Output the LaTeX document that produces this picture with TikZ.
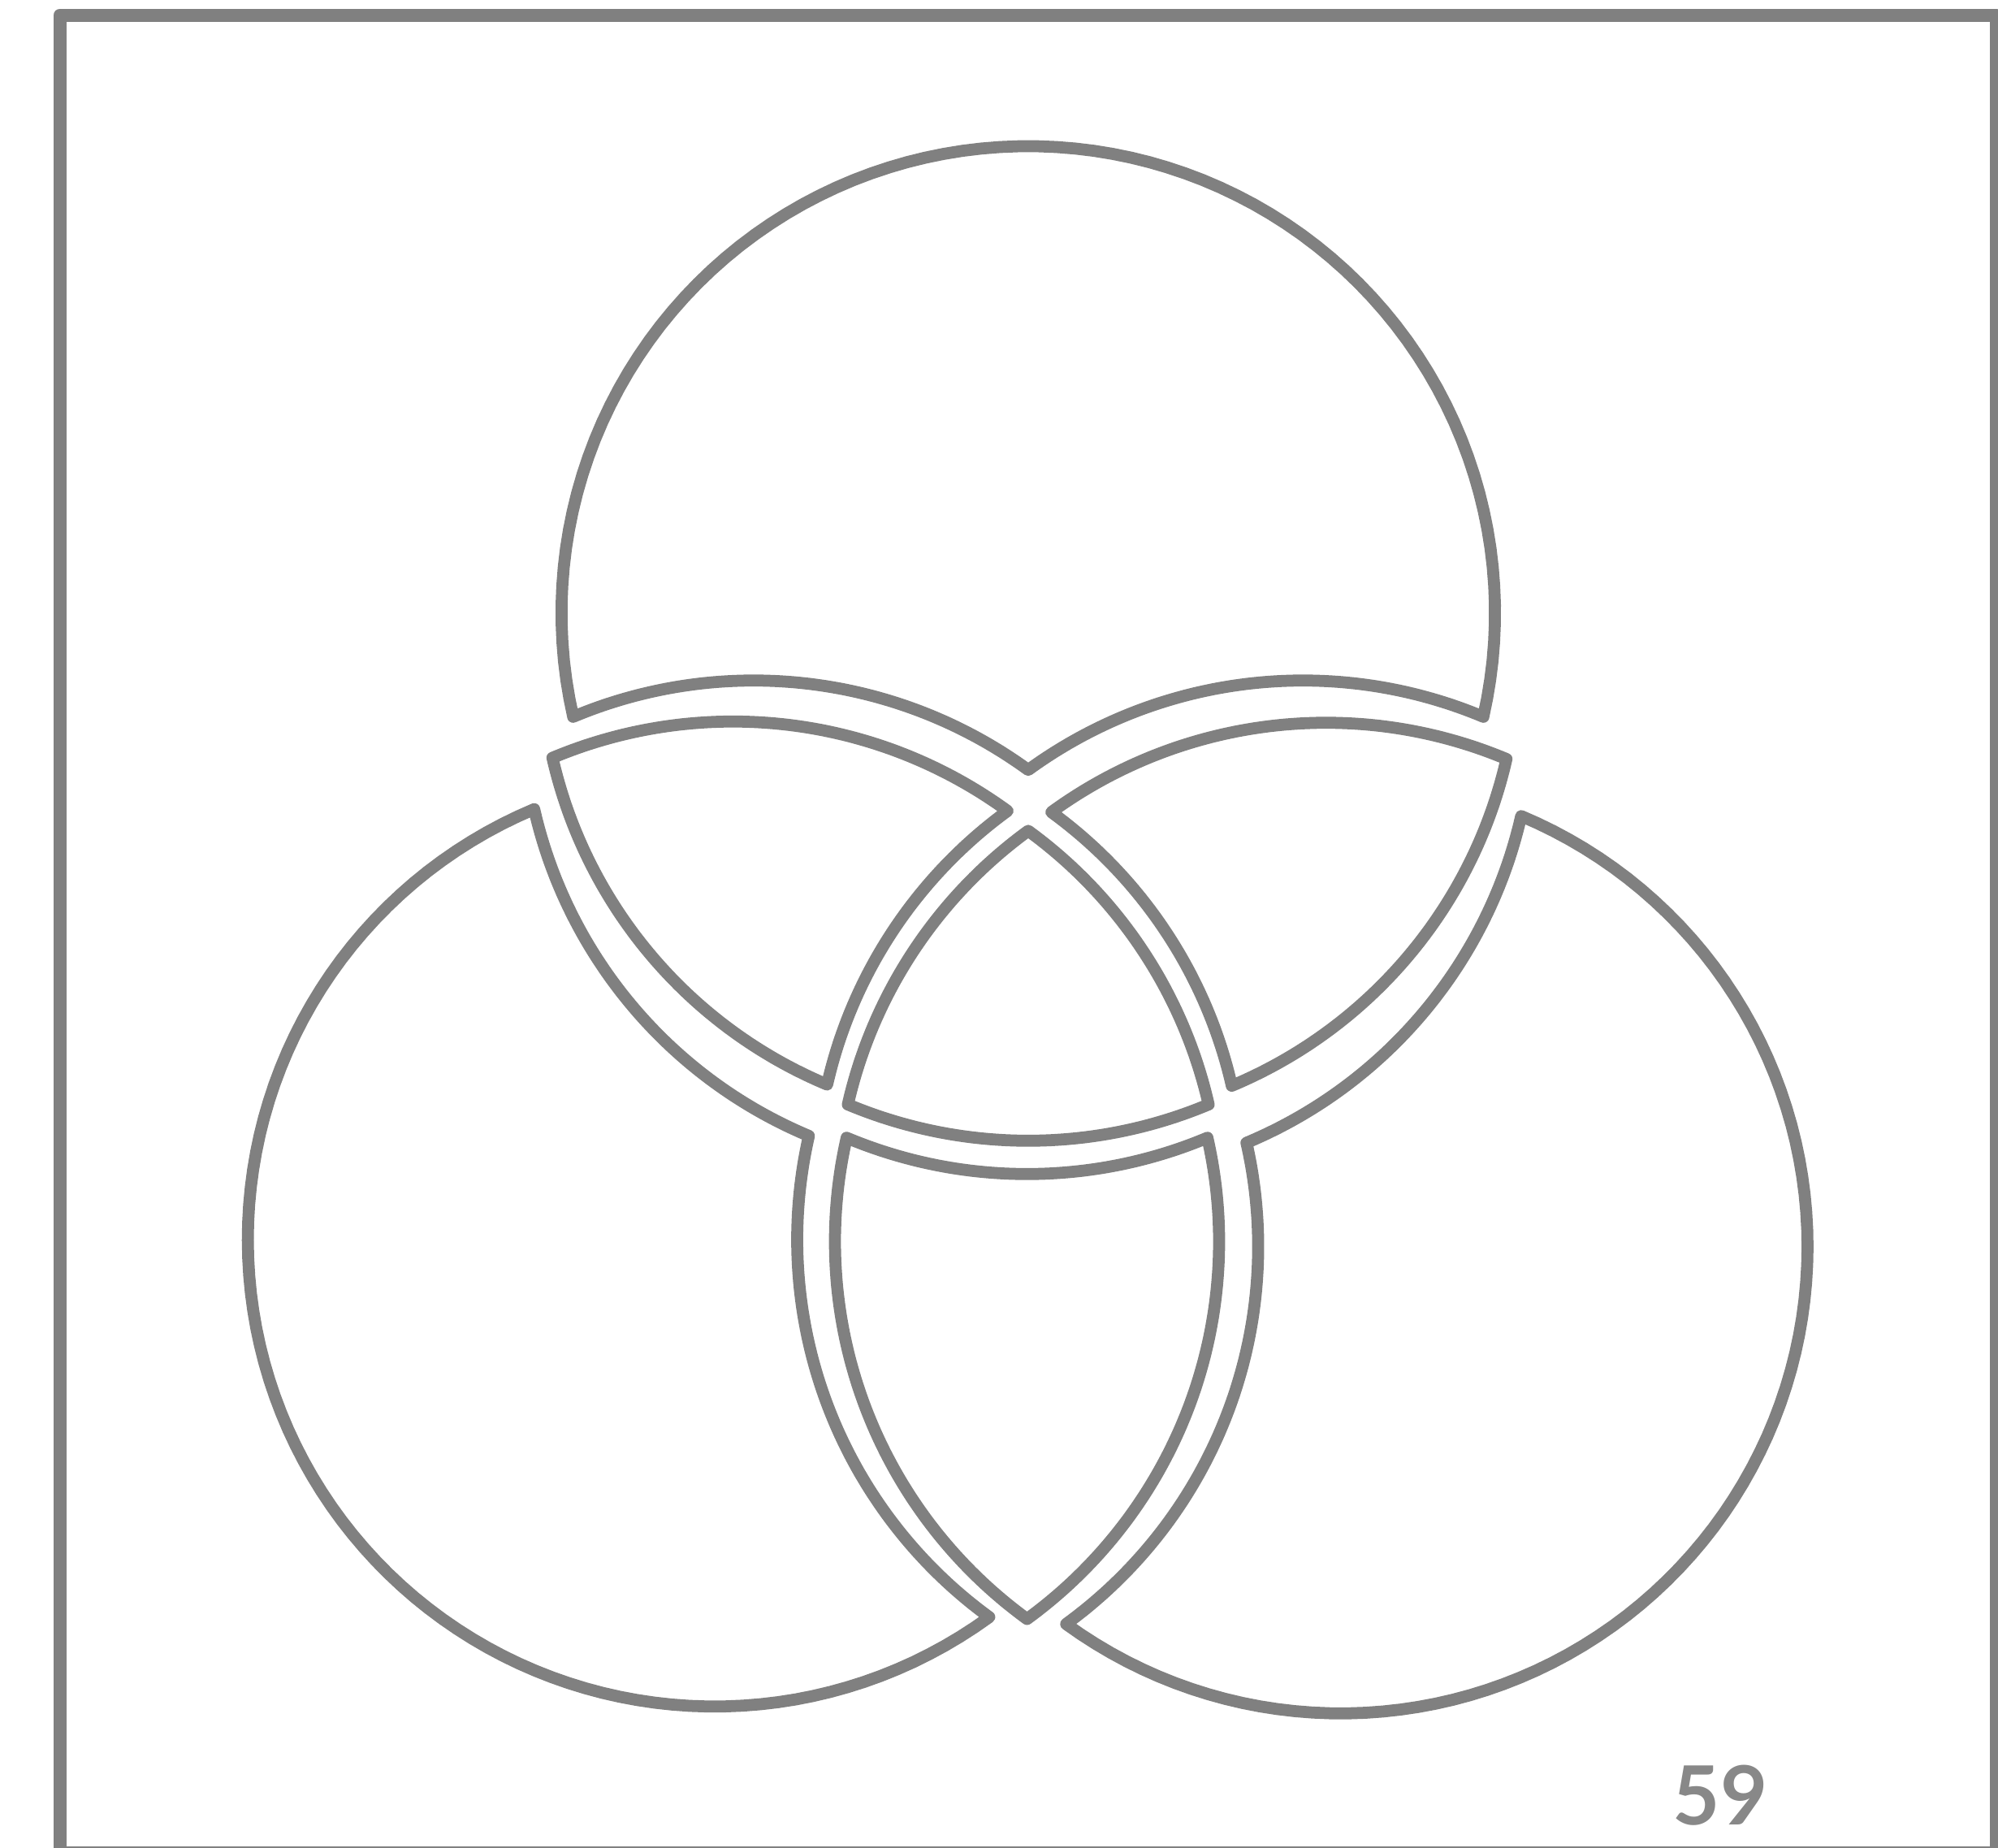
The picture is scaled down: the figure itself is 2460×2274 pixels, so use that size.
\documentclass[tikz,border=0pt]{standalone}
\usepackage{fontspec}
\newfontfamily\latobold{Lato Bold}
\definecolor{linegray}{RGB}{128,128,128}
\definecolor{numgray}{RGB}{136,136,136}
\begin{document}
\begin{tikzpicture}[x=0.1mm,y=-0.1mm,
  piece/.style={draw=linegray,line width=4.2pt,line join=round},
  framestyle/.style={draw=linegray,line width=4.55pt,line join=round},
  arcs/.style={samples=90}]
\useasboundingbox (0,0) rectangle (2460,2274);
\clip (0,0) rectangle (2460,2274);
\def\R{574.7}
% frame
\draw[framestyle] (73.7,18.5) rectangle (2458,2281);
% top piece (A only)
\draw[piece,shift={(0,-75)}]
  plot[arcs,domain=167.15:372.85] ({1266+\R*cos(\x)},{829.6+\R*sin(\x)})
  -- plot[arcs,domain=-67.26:-126.05] ({1604.2+\R*cos(\x)},{1487.4+\R*sin(\x)})
  -- plot[arcs,domain=-53.95:-112.74] ({927.8+\R*cos(\x)},{1487.4+\R*sin(\x)})
  -- cycle;
% A and B only
\draw[piece,shift={(-25.5,-24.5)}]
  plot[arcs,domain=-112.74:-53.95] ({927.8+\R*cos(\x)},{1487.4+\R*sin(\x)})
  -- plot[arcs,domain=233.95:192.85] ({1604.2+\R*cos(\x)},{1487.4+\R*sin(\x)})
  -- plot[arcs,domain=112.74:167.15] ({1266+\R*cos(\x)},{829.6+\R*sin(\x)})
  -- cycle;
% A and C only
\draw[piece,shift={(28.5,-23)}]
  plot[arcs,domain=-126.05:-67.26] ({1604.2+\R*cos(\x)},{1487.4+\R*sin(\x)})
  -- plot[arcs,domain=12.85:67.26] ({1266+\R*cos(\x)},{829.6+\R*sin(\x)})
  -- plot[arcs,domain=-12.85:-53.95] ({927.8+\R*cos(\x)},{1487.4+\R*sin(\x)})
  -- cycle;
% centre (A, B and C)
\draw[piece]
  plot[arcs,domain=-53.95:-12.85] ({927.8+\R*cos(\x)},{1487.4+\R*sin(\x)})
  -- plot[arcs,domain=67.26:112.74] ({1266+\R*cos(\x)},{829.6+\R*sin(\x)})
  -- plot[arcs,domain=192.85:233.95] ({1604.2+\R*cos(\x)},{1487.4+\R*sin(\x)})
  -- cycle;
% B only
\draw[piece,shift={(-48,38.7)}]
  plot[arcs,domain=53.95:247.26] ({927.8+\R*cos(\x)},{1487.4+\R*sin(\x)})
  -- plot[arcs,domain=167.15:112.74] ({1266+\R*cos(\x)},{829.6+\R*sin(\x)})
  -- plot[arcs,domain=192.85:126.05] ({1604.2+\R*cos(\x)},{1487.4+\R*sin(\x)})
  -- cycle;
% C only
\draw[piece,shift={(46.6,47.2)}]
  plot[arcs,domain=-67.26:126.05] ({1604.2+\R*cos(\x)},{1487.4+\R*sin(\x)})
  -- plot[arcs,domain=53.95:-12.85] ({927.8+\R*cos(\x)},{1487.4+\R*sin(\x)})
  -- plot[arcs,domain=67.26:12.85] ({1266+\R*cos(\x)},{829.6+\R*sin(\x)})
  -- cycle;
% B and C only
\draw[piece,shift={(-1.5,41)}]
  plot[arcs,domain=112.74:67.26] ({1266+\R*cos(\x)},{829.6+\R*sin(\x)})
  -- plot[arcs,domain=-12.85:53.95] ({927.8+\R*cos(\x)},{1487.4+\R*sin(\x)})
  -- plot[arcs,domain=126.05:192.85] ({1604.2+\R*cos(\x)},{1487.4+\R*sin(\x)})
  -- cycle;
% page number
\node[anchor=base,inner sep=0pt,text=numgray,font=\latobold\fontsize{28.6}{30}\selectfont] (pagenum) at (2118,2246) {59};
\end{tikzpicture}
\end{document}
